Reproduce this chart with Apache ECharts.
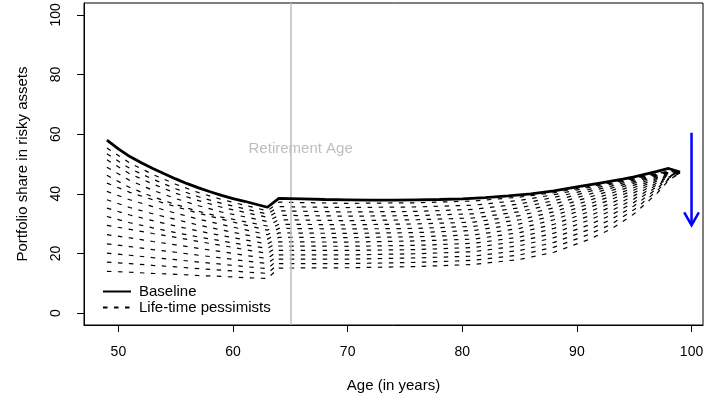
<!DOCTYPE html>
<html>
<head>
<meta charset="utf-8">
<script src="https://cdn.jsdelivr.net/npm/echarts@6/dist/echarts.min.js"></script>
<style>
  html, body { margin: 0; padding: 0; background: #fff; }
  #chart { width: 720px; height: 403px; }
</style>
</head>
<body>
<div id="chart"></div>
<script>
// ages (years) and tick labels
const xTicks = [50, 60, 70, 80, 90, 100];
const yTicks = [0, 20, 40, 60, 80, 100];

// baseline investor
const baselineAges = [49, 50, 51, 52, 53, 54, 55, 56, 57, 58, 59, 60, 61, 62, 63, 64, 66, 68, 70, 72, 74, 76, 78, 80, 82, 84, 86, 88, 90, 92, 94, 95, 96, 97, 98, 99];
const baselineVals = [58.0, 55.1, 52.5, 50.4, 48.5, 46.7, 45.0, 43.4, 42.0, 40.7, 39.5, 38.4, 37.5, 36.5, 35.5, 38.5, 38.3, 38.1, 38.0, 37.9, 37.9, 38.0, 38.1, 38.3, 38.7, 39.3, 40.0, 41.0, 42.3, 43.6, 44.9, 45.7, 46.6, 47.5, 48.5, 47.3];

// life-time pessimists, one row per degree of pessimism
const pessAges = [49, 51, 53, 55, 57, 59, 61, 63, 64, 70, 76, 81, 85, 88, 91, 93, 95, 97, 98, 99];
const pess01 = [55.4, 50.3, 46.5, 43.2, 40.4, 38.1, 36.2, 34.3, 37.2, 36.8, 37.0, 37.6, 38.9, 40.4, 42.4, 43.8, 45.3, 46.8, 47.5, 47.3];
const pess02 = [53.4, 48.5, 44.9, 41.7, 39.0, 36.8, 35.0, 33.2, 35.7, 35.4, 35.6, 36.2, 37.8, 39.7, 42.1, 43.6, 45.2, 46.8, 47.5, 47.3];
const pess03 = [51.4, 46.7, 43.3, 40.2, 37.7, 35.5, 33.8, 32.1, 34.3, 33.9, 34.1, 34.8, 36.6, 38.8, 41.4, 43.2, 45.0, 46.7, 47.4, 47.3];
const pess04 = [48.9, 44.5, 41.2, 38.4, 36.0, 33.9, 32.3, 30.7, 32.8, 32.5, 32.7, 33.3, 35.3, 37.7, 40.7, 42.6, 44.6, 46.5, 47.4, 47.3];
const pess05 = [46.2, 42.1, 39.0, 36.4, 34.1, 32.2, 30.7, 29.2, 31.3, 31.0, 31.3, 31.9, 34.0, 36.6, 39.8, 41.9, 44.1, 46.3, 47.3, 47.2];
const pess06 = [43.6, 40.5, 38.0, 35.7, 33.5, 31.5, 29.6, 27.8, 29.8, 29.6, 29.9, 30.5, 32.7, 35.3, 38.8, 41.1, 43.6, 46.0, 47.2, 47.2];
const pess07 = [40.8, 38.0, 35.7, 33.5, 31.5, 29.7, 28.0, 26.3, 28.4, 28.2, 28.4, 29.1, 31.3, 34.0, 37.7, 40.2, 42.9, 45.6, 47.0, 47.2];
const pess08 = [38.0, 35.4, 33.3, 31.4, 29.5, 27.9, 26.3, 24.8, 26.9, 26.7, 27.0, 27.7, 29.9, 32.7, 36.5, 39.2, 42.1, 45.2, 46.8, 47.2];
const pess09 = [35.2, 32.9, 31.0, 29.2, 27.5, 26.0, 24.6, 23.2, 25.4, 25.3, 25.6, 26.2, 28.4, 31.3, 35.3, 38.1, 41.3, 44.8, 46.6, 47.1];
const pess10 = [32.4, 30.3, 28.6, 27.0, 25.5, 24.2, 22.9, 21.7, 23.9, 23.8, 24.2, 24.8, 27.0, 29.8, 33.9, 36.9, 40.4, 44.3, 46.4, 47.1];
const pess11 = [29.4, 28.1, 26.7, 25.4, 24.0, 22.7, 21.3, 20.0, 22.5, 22.4, 22.7, 23.4, 25.5, 28.4, 32.5, 35.6, 39.4, 43.7, 46.2, 47.1];
const pess12 = [26.3, 25.2, 24.0, 22.9, 21.7, 20.6, 19.4, 18.3, 21.0, 21.0, 21.3, 22.0, 24.1, 26.8, 31.1, 34.3, 38.3, 43.1, 45.9, 47.1];
const pess13 = [23.2, 22.3, 21.3, 20.4, 19.4, 18.5, 17.5, 16.6, 19.5, 19.5, 19.9, 20.6, 22.6, 25.3, 29.5, 32.9, 37.2, 42.5, 45.6, 47.1];
const pess14 = [20.1, 19.4, 18.6, 17.9, 17.1, 16.4, 15.6, 14.9, 18.1, 18.1, 18.5, 19.1, 21.0, 23.7, 27.9, 31.4, 36.0, 41.8, 45.2, 47.0];
const pess15 = [17.1, 16.6, 16.0, 15.5, 14.9, 14.4, 13.8, 13.3, 16.6, 16.6, 17.0, 17.7, 19.5, 22.1, 26.3, 29.8, 34.7, 41.0, 44.9, 47.0];
const pess16 = [14.0, 13.7, 13.3, 13.0, 12.6, 12.3, 11.9, 11.6, 15.1, 15.2, 15.6, 16.3, 18.0, 20.4, 24.6, 28.2, 33.3, 40.2, 44.5, 47.0];
const pessimists = [pess01, pess02, pess03, pess04, pess05, pess06, pess07, pess08,
                    pess09, pess10, pess11, pess12, pess13, pess14, pess15, pess16];

// annotations
const retirementAge = 65;
const retirementLabelAt = [65.9, 55.2];
const arrowShaft = [[100, 60.5], [100, 29.6]];
const arrowHead = [[99.36, 33.8], [100, 29.5], [100.64, 33.8]];

const FONT = "'Liberation Sans', Arial, sans-serif";
const chart = echarts.init(document.getElementById('chart'), null, { renderer: 'canvas' });

const pair = (xs, ys) => xs.map((x, i) => [x, ys[i]]);

const series = [];
pessimists.forEach((row) => {
  series.push({
    name: 'Life-time pessimists',
    type: 'line',
    data: pair(pessAges, row),
    symbol: 'none',
    silent: true,
    z: 2,
    itemStyle: { color: '#000' },
    lineStyle: { color: '#000', width: 1.2, type: [4.5, 6.5] }
  });
});
series.push({
  name: 'Baseline',
  type: 'line',
  data: pair(baselineAges, baselineVals),
  symbol: 'none',
  silent: true,
  z: 4,
  itemStyle: { color: '#000' },
  lineStyle: { color: '#000', width: 2.8 },
  markLine: {
    silent: true,
    symbol: 'none',
    label: { show: false },
    lineStyle: { color: '#bebebe', width: 1.5, type: 'solid' },
    data: [{ xAxis: retirementAge }],
    z: 3
  },
  markPoint: {
    silent: true,
    symbol: 'circle',
    symbolSize: 0,
    data: [{ coord: retirementLabelAt }],
    label: {
      show: true,
      position: 'inside',
      formatter: 'Retirement Age',
      color: '#bebebe',
      fontSize: 15,
      fontFamily: FONT
    }
  }
});
series.push({
  name: 'arrow',
  type: 'line',
  data: arrowShaft,
  symbol: 'none',
  silent: true,
  z: 5,
  lineStyle: { color: '#0000ff', width: 2.5 }
});
series.push({
  name: 'arrowhead',
  type: 'line',
  data: arrowHead,
  symbol: 'none',
  silent: true,
  z: 5,
  lineStyle: { color: '#0000ff', width: 2.5, join: 'miter' }
});

const option = {
  animation: false,
  backgroundColor: '#fff',
  textStyle: { fontFamily: FONT },
  grid: {
    left: 84, right: 17, top: 3, bottom: 78,
    show: true, borderColor: '#000', borderWidth: 1, backgroundColor: 'transparent'
  },
  legend: {
    data: ['Baseline', 'Life-time pessimists'],
    orient: 'vertical',
    left: 97,
    top: 279,
    itemWidth: 28,
    itemHeight: 14,
    itemGap: 1,
    selectedMode: false,
    itemStyle: { opacity: 0 },
    textStyle: { color: '#000', fontSize: 15, fontFamily: FONT, padding: [0, 0, 0, 3] }
  },
  xAxis: {
    type: 'value',
    min: 47,
    max: 101,
    name: 'Age (in years)',
    nameLocation: 'middle',
    nameGap: 53,
    nameTextStyle: { color: '#000', fontSize: 15, fontFamily: FONT },
    axisLine: { show: true, onZero: false, lineStyle: { color: '#000', width: 1 } },
    axisTick: { show: true, length: 7, lineStyle: { color: '#000' }, customValues: xTicks },
    axisLabel: { color: '#000', fontSize: 14, fontFamily: FONT, margin: 20, customValues: xTicks },
    splitLine: { show: false }
  },
  yAxis: {
    type: 'value',
    min: -4,
    max: 104,
    name: 'Portfolio share in risky assets',
    nameLocation: 'middle',
    nameRotate: 90,
    nameGap: 54,
    nameTextStyle: { color: '#000', fontSize: 15, fontFamily: FONT },
    axisLine: { show: true, onZero: false, lineStyle: { color: '#000', width: 1 } },
    axisTick: { show: true, length: 7, lineStyle: { color: '#000' }, customValues: yTicks },
    axisLabel: { color: '#000', fontSize: 14, fontFamily: FONT, margin: 21, rotate: 90, customValues: yTicks },
    splitLine: { show: false }
  },
  series: series
};

chart.setOption(option);
</script>
</body>
</html>
